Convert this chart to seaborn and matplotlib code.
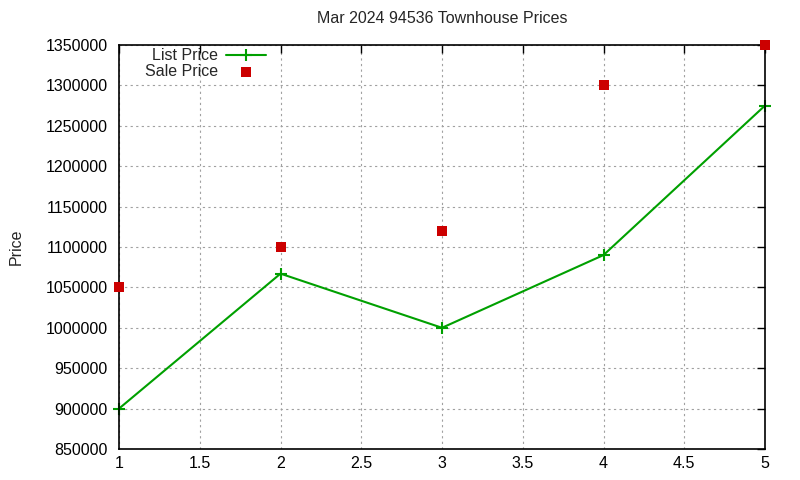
import pandas as pd
import matplotlib
matplotlib.use('Agg')
import matplotlib.pyplot as plt
import seaborn as sns

# данные с графика
months = [1, 2, 3, 4, 5]
list_price = [900000, 1067000, 1000000, 1090000, 1275000]
sale_price = [1050000, 1100000, 1120000, 1300000, 1350000]

df = pd.DataFrame({'x': months, 'list': list_price, 'sale': sale_price})

sns.set_style('white')
plt.rcParams['font.family'] = ['Liberation Sans', 'DejaVu Sans']

fig = plt.figure(figsize=(8, 4.8), dpi=100)
ax = fig.add_axes([0.14875, 0.0646, 0.8075, 0.8417])

sns.lineplot(data=df, x='x', y='list', ax=ax, color='#00a000', linewidth=1.5,
             marker='+', markersize=8, markeredgewidth=1.5,
             markeredgecolor='#00a000', label='List Price')
sns.scatterplot(data=df, x='x', y='sale', ax=ax, color='#cc0000', marker='s',
                s=50, linewidth=0, label='Sale Price', zorder=5, clip_on=False)

ax.set_xlim(1, 5)
ax.set_ylim(850000, 1350000)
ax.set_xticks([1, 1.5, 2, 2.5, 3, 3.5, 4, 4.5, 5])
ax.set_xticklabels(['1', '1.5', '2', '2.5', '3', '3.5', '4', '4.5', '5'])
ax.set_yticks(range(850000, 1350001, 50000))
ax.ticklabel_format(axis='y', style='plain', useOffset=False)
ax.lines[0].set_clip_on(False)

ax.grid(True, color='#a0a0a0', linestyle=(0, (2, 3)), linewidth=0.8)
ax.tick_params(direction='in', length=6, width=1, top=True, right=True,
               labelsize=11.5, colors='black')
ax.tick_params(axis='y', pad=8)
ax.tick_params(axis='x', pad=5)
for sp in ax.spines.values():
    sp.set_color('black')
    sp.set_linewidth(1.2)

ax.set_xlabel('')
ax.set_ylabel('Price', fontsize=11.5, labelpad=16)
ax.set_title('Mar 2024 94536 Townhouse Prices', fontsize=11.5, pad=16)

leg = ax.legend(loc='upper left', bbox_to_anchor=(0.025, 1.015), frameon=False,
                markerfirst=False, fontsize=11.5, handlelength=2.5,
                borderaxespad=0.2, labelspacing=0.05, handletextpad=0.5)
for t in leg.get_texts():
    t.set_ha('right')
leg._legend_box.align = 'right'

fig.savefig('out.png', dpi=100)
